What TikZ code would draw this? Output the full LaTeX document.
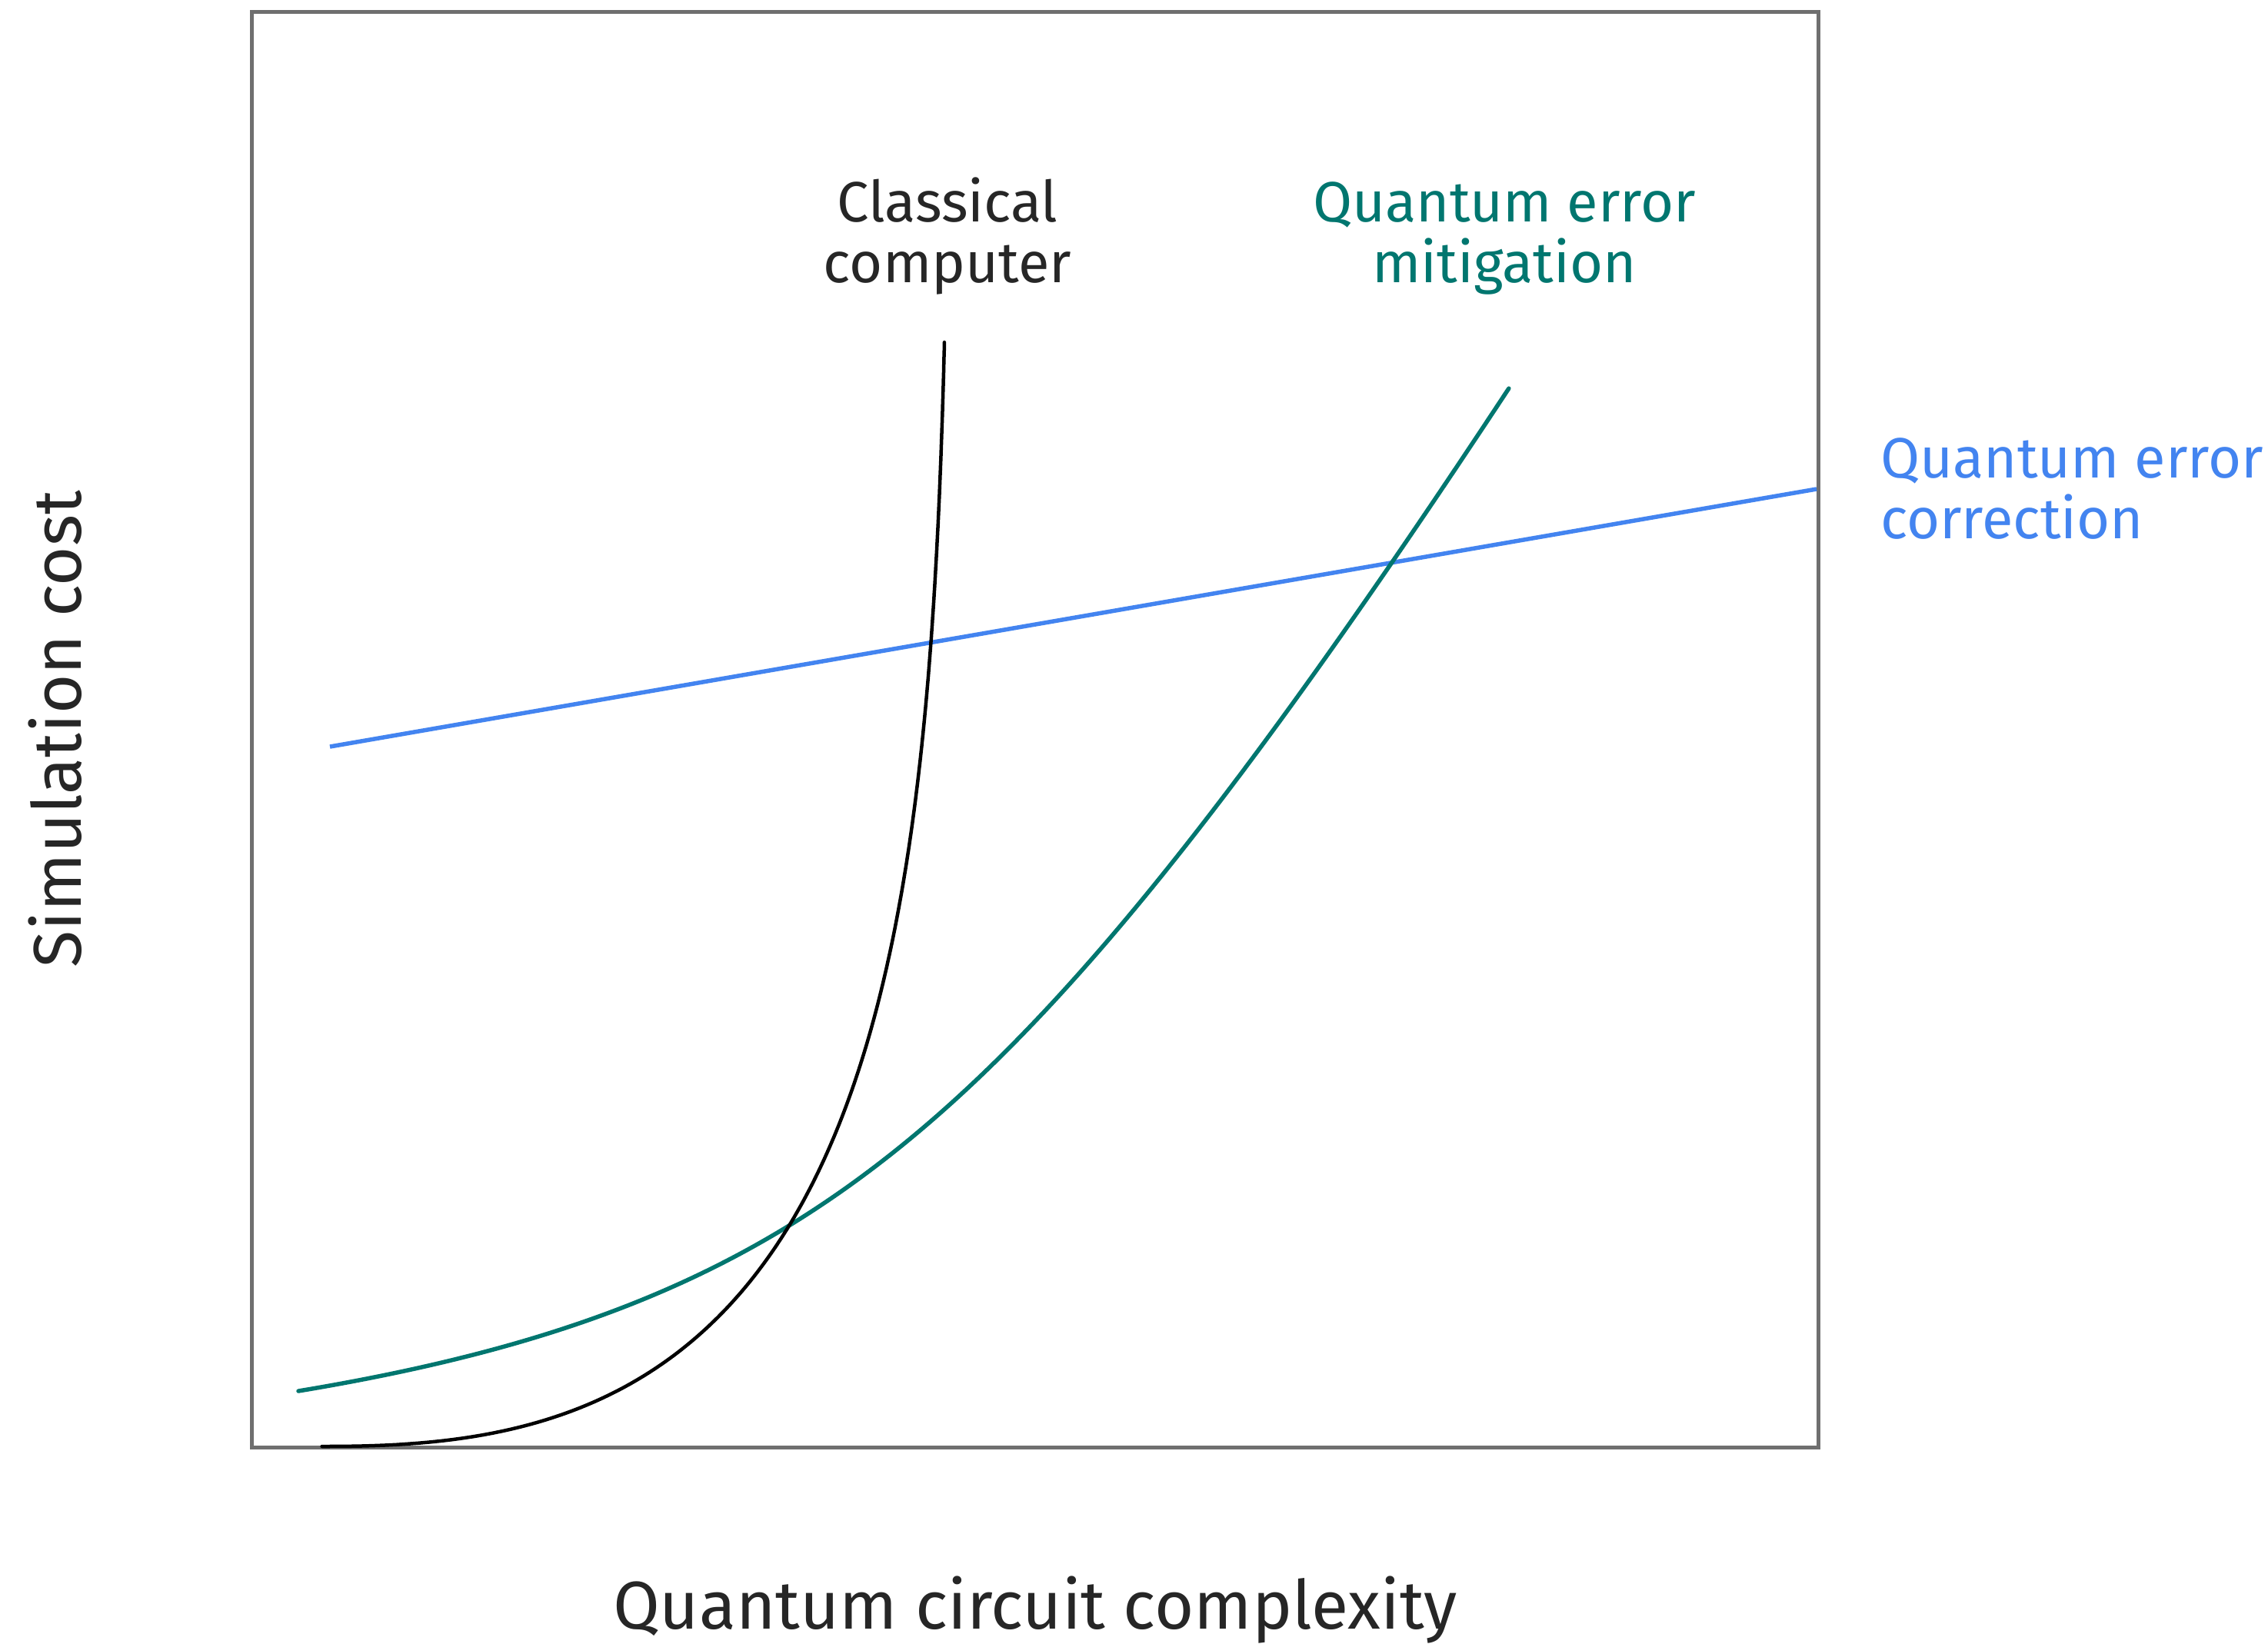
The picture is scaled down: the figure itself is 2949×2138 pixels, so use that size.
\documentclass[tikz,border=0pt]{standalone}
\usepackage{fontspec}
\setmainfont{Fira Sans}
\definecolor{framegray}{HTML}{6F6F6F}
\definecolor{qemteal}{HTML}{00766F}
\definecolor{qecblue}{HTML}{4384F0}
\begin{document}
\begin{tikzpicture}[x=1pt,y=-1pt,
  lbl/.style={font=\fontsize{74}{90}\selectfont, inner sep=0pt, anchor=base},
  axlbl/.style={font=\fontsize{88}{100}\selectfont, inner sep=0pt, anchor=base},
  curve/.style={line cap=round, line join=round}]
\useasboundingbox (0,0) rectangle (2949,2138);
\fill[white] (0,0) rectangle (2949,2138);
% frame
\node[draw=framegray, line width=5pt, inner sep=0pt, minimum width=2037pt, minimum height=1867pt, anchor=north west] (frame) at (325,13) {};
% QEC straight line
\coordinate (qecstart) at (429,971);
\coordinate (qecend) at (2362,636);
\draw[qecblue, line width=5.5pt, line cap=butt] (qecstart) -- (qecend);
% QEM curve
\draw[curve, qemteal, line width=5.5pt] plot[domain=3.88:19.62, samples=160, variable=\t]
  ({100*\t}, {1977 - 85*((\t-12) + sqrt((\t-12)*(\t-12)+36))});
% classical computer curve
\draw[curve, black, line width=4.5pt] plot[domain=0.001:4.62, samples=220, variable=\v]
  ({418 + 818*(1-exp(-\v))}, {1881 - 315*\v*((1-exp(-\v))^1.35)});
% labels
\node[lbl, text=black!85] (cc1) at (1232,288) {Classical};
\node[lbl, text=black!85] (cc2) at (1232,367) {computer};
\node[lbl, text=qemteal] (qem1) at (1956,288) {Quantum error};
\node[lbl, text=qemteal] (qem2) at (1956,367) {mitigation};
\node[lbl, text=qecblue, anchor=base west] (qec1) at (2445,621) {Quantum error};
\node[lbl, text=qecblue, anchor=base west] (qec2) at (2445,700) {correction};
\node[axlbl, text=black!85] (xlab) at (1346,2118) {Quantum circuit complexity};
\node[axlbl, text=black!85, rotate=90] (ylab) at (105,948) {Simulation cost};
\end{tikzpicture}
\end{document}
